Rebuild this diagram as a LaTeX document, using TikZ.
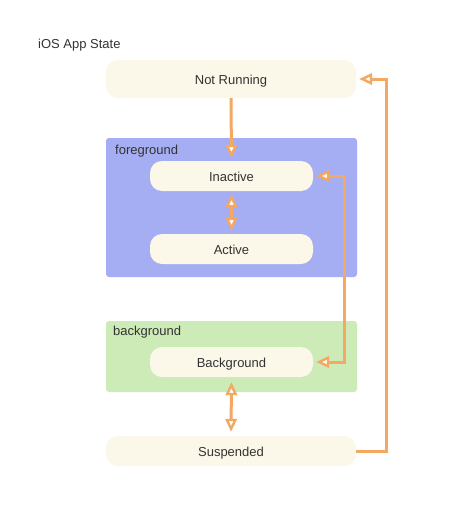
\documentclass[tikz,border=0pt]{standalone}
\usepackage{fontspec}
\setmainfont{Liberation Sans}
\usetikzlibrary{arrows.meta}
\definecolor{cream}{HTML}{FBF7E9}
\definecolor{fgblue}{HTML}{A5ADF3}
\definecolor{bggreen}{HTML}{CCEBB6}
\definecolor{orng}{HTML}{F4A862}
\definecolor{txt}{HTML}{333333}
\begin{document}
\begin{tikzpicture}[x=1pt,y=-1pt,
  state/.style={fill=cream, rounded corners=12pt, inner sep=0pt, text=txt, font=\fontsize{13}{15}\selectfont, text height=10pt, text depth=0pt},
  wide/.style={minimum width=250pt},
  narrow/.style={minimum width=163pt, minimum height=30pt},
  group/.style={rounded corners=3pt, inner sep=0pt},
  grouplabel/.style={anchor=north west, inner sep=0pt, text=txt, font=\fontsize{13}{15}\selectfont},
  conn/.style={draw=orng, line width=3pt, line join=miter,
    arrows={-Triangle[fill=white, length=13pt, width=11.5pt, line width=2.4pt]}},
  conn2/.style={conn, arrows={Triangle[fill=white, length=13pt, width=11.5pt, line width=2.4pt]-Triangle[fill=white, length=13pt, width=11.5pt, line width=2.4pt]}}
]
\useasboundingbox[fill=white] (0,0) rectangle (463,517);
\node[anchor=west, inner sep=0pt, text=txt, font=\fontsize{13}{15}\selectfont] (title) at (38,45) {iOS App State};
\node[state, wide, minimum height=38pt] (nr) at (231,79) {Not Running};
\node[group, fill=fgblue, minimum width=251pt, minimum height=139pt] (fg) at (231.5,207.5) {};
\node[grouplabel] (fgl) at (115,145) {foreground};
\node[state, narrow] (ina) at (231.5,176) {Inactive};
\node[state, narrow] (act) at (231.5,249) {Active};
\node[group, fill=bggreen, minimum width=251pt, minimum height=71pt] (bgg) at (231.5,356.5) {};
\node[grouplabel] (bgl) at (113,326) {background};
\node[state, narrow] (bg) at (231.5,362) {Background};
\node[state, wide, minimum height=30pt] (sus) at (231,451) {Suspended};
\draw[conn, shorten >=3pt] (nr.south) -- (ina.north);
\draw[conn2, shorten <=3pt, shorten >=3pt] (ina.south) -- (act.north);
\draw[conn2, shorten <=5pt, shorten >=4pt] (bg.south) -- (sus.north);
\draw[conn2, shorten <=3pt, shorten >=3pt] (ina.east) -- ++(31,0) |- (bg.east);
\draw[conn, shorten >=3pt] (sus.east) -- ++(30,0) |- (nr.east);
\end{tikzpicture}
\end{document}
